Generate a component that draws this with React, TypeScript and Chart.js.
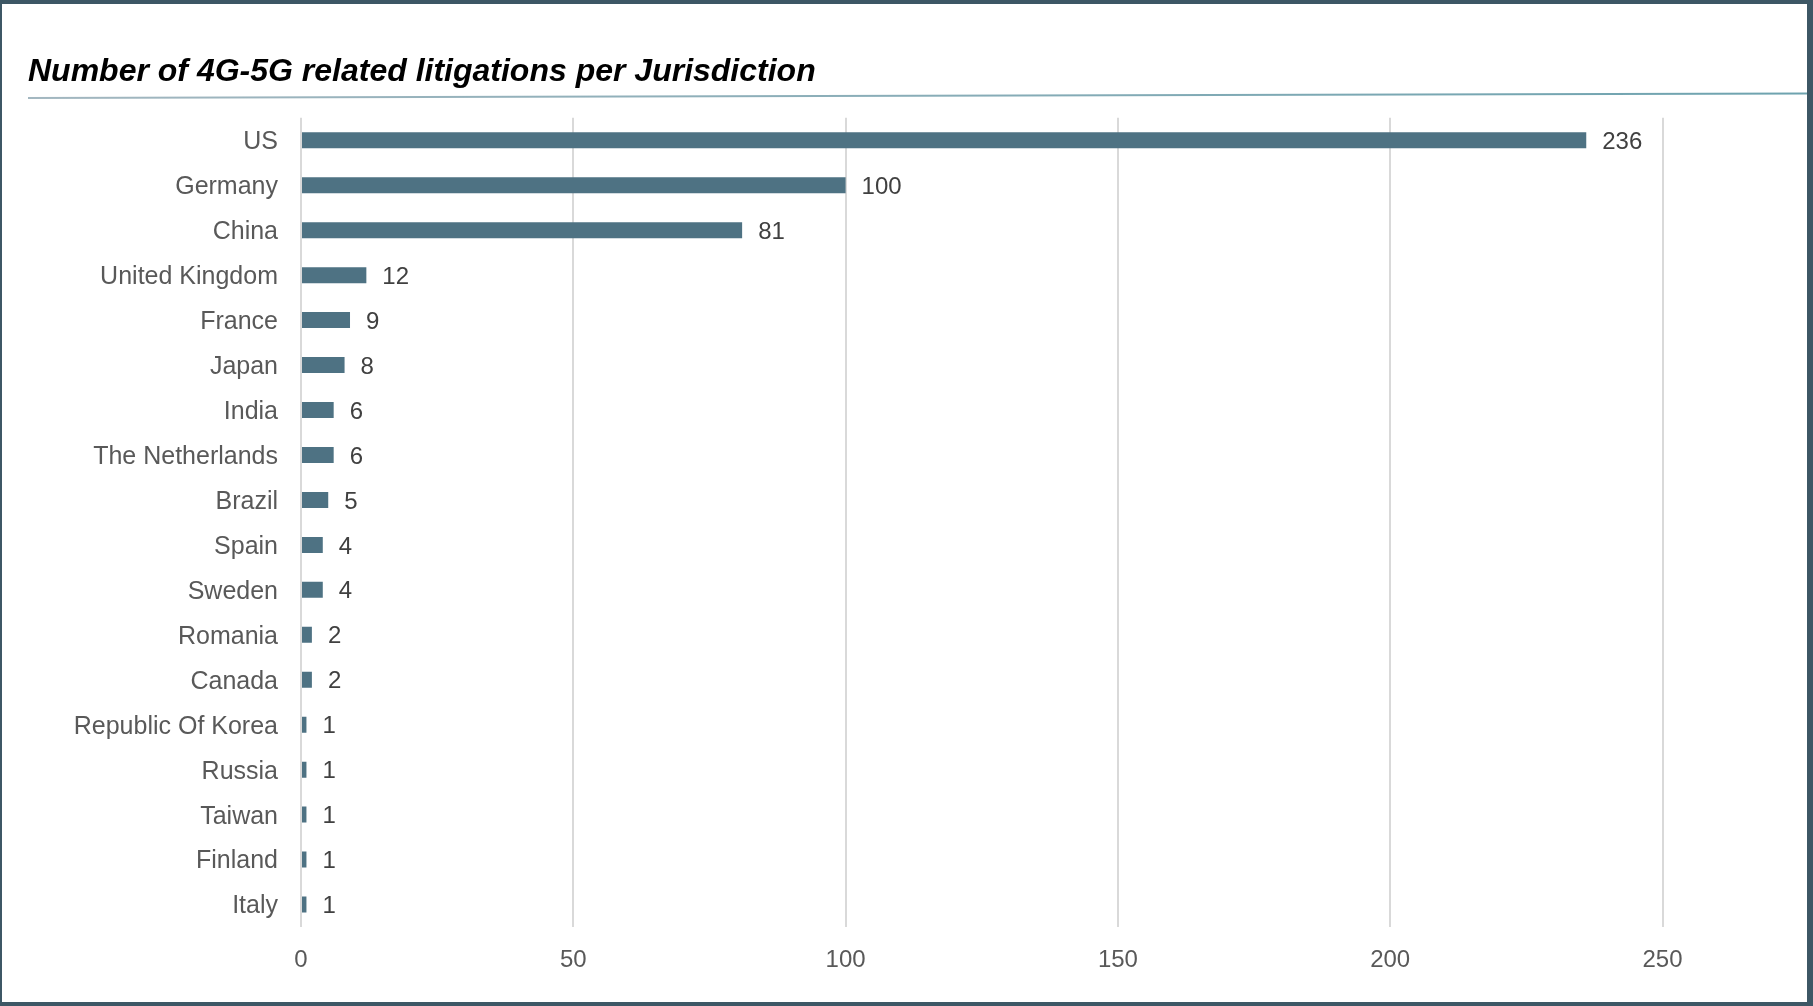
import React, { useEffect, useRef } from "react";
import { Chart, registerables } from "chart.js";

Chart.register(...registerables);

const chartTitle = "Number of 4G-5G related litigations per Jurisdiction";
const categories = [
  "US",
  "Germany",
  "China",
  "United Kingdom",
  "France",
  "Japan",
  "India",
  "The Netherlands",
  "Brazil",
  "Spain",
  "Sweden",
  "Romania",
  "Canada",
  "Republic Of Korea",
  "Russia",
  "Taiwan",
  "Finland",
  "Italy",
];
const litigations = [236, 100, 81, 12, 9, 8, 6, 6, 5, 4, 4, 2, 2, 1, 1, 1, 1, 1];
const xTicks = [0, 50, 100, 150, 200, 250];

const FONT = '"Liberation Sans", Arial, sans-serif';
const CANVAS_W = 1805;
const CANVAS_H = 998;

const ruleLine = {
  id: "ruleLine",
  beforeDraw(chart: any) {
    const ctx = chart.ctx;
    ctx.save();
    const g = ctx.createLinearGradient(26, 0, 1804, 0);
    g.addColorStop(0, "#a3b7c0");
    g.addColorStop(1, "#6ea3af");
    ctx.strokeStyle = g;
    ctx.lineWidth = 2;
    ctx.beginPath();
    ctx.moveTo(26, 94.1);
    ctx.lineTo(1805, 89.6);
    ctx.stroke();
    ctx.restore();
  },
};

const dataLabels = {
  id: "dataLabels",
  afterDatasetsDraw(chart: any) {
    const ctx = chart.ctx;
    const meta = chart.getDatasetMeta(0);
    ctx.save();
    ctx.font = `24px ${FONT}`;
    ctx.fillStyle = "#404040";
    ctx.textAlign = "left";
    ctx.textBaseline = "middle";
    meta.data.forEach((bar: any, i: number) => {
      ctx.fillText(String(litigations[i]), bar.x + 16, bar.y + 2);
    });
    ctx.restore();
  },
};

export default function App() {
  const canvasRef = useRef<HTMLCanvasElement | null>(null);

  useEffect(() => {
    document.body.style.margin = "0";
    const canvas = canvasRef.current;
    if (!canvas) return;
    Chart.defaults.font.family = FONT;
    const chart = new Chart(canvas, {
      type: "bar",
      data: {
        labels: categories,
        datasets: [
          {
            data: litigations,
            backgroundColor: "#4e7283",
            borderWidth: 0,
            barPercentage: 0.356,
            categoryPercentage: 1,
          },
        ],
      },
      options: {
        indexAxis: "y",
        responsive: false,
        animation: false,
        devicePixelRatio: 1,
        layout: { padding: { left: 26, right: 144.5, top: 0, bottom: 0 } },
        plugins: {
          legend: { display: false },
          tooltip: { enabled: false },
          title: {
            display: true,
            text: chartTitle,
            align: "start",
            color: "#000000",
            font: { family: FONT, size: 32, weight: "bold", style: "italic", lineHeight: 1.2 },
            padding: { top: 48.9, bottom: 26.5 },
          },
        },
        scales: {
          x: {
            min: 0,
            max: 250,
            afterBuildTicks: (s: any) => {
              s.ticks = xTicks.map((v) => ({ value: v }));
            },
            afterFit: (s: any) => {
              s.height = 75;
            },
            ticks: {
              color: "#595959",
              font: { family: FONT, size: 24 },
              padding: 19,
              maxRotation: 0,
            },
            grid: { color: "#d9d9d9", lineWidth: 2, drawTicks: false },
            border: { display: false },
          },
          y: {
            afterFit: (s: any) => {
              s.width = 273;
            },
            ticks: {
              color: "#595959",
              font: { family: FONT, size: 25 },
              padding: 23,
              labelOffset: 2,
              autoSkip: false,
            },
            grid: { display: false, drawTicks: false },
            border: { display: false },
          },
        },
      } as any,
      plugins: [ruleLine, dataLabels],
    });
    return () => chart.destroy();
  }, []);

  return (
    <div
      style={{
        position: "fixed",
        left: 0,
        top: 0,
        width: 1813,
        height: 1006,
        boxSizing: "border-box",
        borderStyle: "solid",
        borderColor: "#3d5765",
        borderWidth: "4px 6px 4px 2px",
        background: "#ffffff",
        overflow: "hidden",
      }}
    >
      <canvas
        ref={canvasRef}
        width={CANVAS_W}
        height={CANVAS_H}
        style={{ display: "block", width: CANVAS_W, height: CANVAS_H }}
      />
    </div>
  );
}
